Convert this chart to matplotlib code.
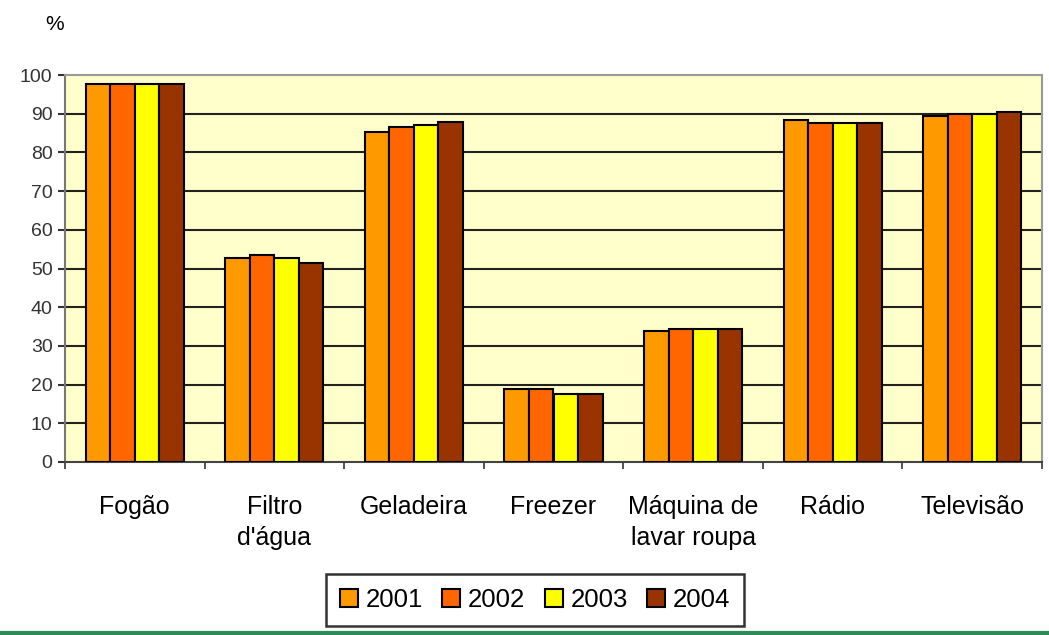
import matplotlib
matplotlib.use('Agg')
import matplotlib.pyplot as plt
import numpy as np

plt.rcParams['font.family'] = ['Liberation Sans', 'DejaVu Sans']

categories = ['Fogão', "Filtro\nd'água", 'Geladeira', 'Freezer',
              'Máquina de\nlavar roupa', 'Rádio', 'Televisão']
years = ['2001', '2002', '2003', '2004']
v2001 = [97.6, 52.8, 85.3, 18.8, 33.9, 88.4, 89.4]
v2002 = [97.6, 53.5, 86.6, 18.8, 34.3, 87.7, 89.8]
v2003 = [97.6, 52.8, 87.1, 17.5, 34.3, 87.7, 89.8]
v2004 = [97.6, 51.3, 87.9, 17.5, 34.3, 87.7, 90.5]
series = [v2001, v2002, v2003, v2004]
colors = ['#FF9900', '#FF6600', '#FFFF00', '#993300']

fig = plt.figure(figsize=(10.49, 6.35), dpi=100)
ax = fig.add_axes([65/1049, 1-462/635, (1042-65)/1049, (462-75)/635])
ax.set_facecolor('#FFFFCC')

x = np.arange(len(categories))
w = 0.176
for i, (vals, c) in enumerate(zip(series, colors)):
    ax.bar(x + (i - 1.5)*w, vals, w, color=c, edgecolor='black',
           linewidth=1.5, label=years[i], zorder=3)

ax.set_xlim(-0.5, len(categories) - 0.5)
ax.set_ylim(0, 100)
ax.set_yticks(np.arange(0, 101, 10))
for yv in range(10, 100, 10):
    ax.axhline(yv, color='#222222', linewidth=1.5, zorder=1)

ax.set_xticks(x)
ax.set_xticklabels(categories, fontsize=18, linespacing=1.35)
ax.set_xticks(np.arange(-0.5, len(categories), 1), minor=True)
ax.tick_params(axis='x', which='major', length=0, pad=24)
ax.tick_params(axis='x', which='minor', length=5, width=1.2, color='#333333')
ax.tick_params(axis='y', length=5, width=1.5, color='#333333',
               labelsize=14, labelcolor='#333333', pad=4)

for s in ['top', 'right']:
    ax.spines[s].set_color('#999999')
    ax.spines[s].set_linewidth(1.5)
ax.spines['left'].set_color('#777777')
ax.spines['left'].set_linewidth(1.5)
ax.spines['bottom'].set_color('#444444')
ax.spines['bottom'].set_linewidth(1.5)

fig.text(55/1049, 1-25/635, '%', fontsize=15, ha='center', va='center')

leg = fig.legend(loc='center', bbox_to_anchor=(535/1049, 1-600/635), ncol=4,
                 fontsize=18.5, frameon=True, fancybox=False, edgecolor='black',
                 handlelength=0.7, handleheight=0.7, handletextpad=0.3,
                 columnspacing=0.75, borderpad=0.55, borderaxespad=0)
leg.get_frame().set_linewidth(1.8)

fig.add_artist(plt.Line2D([0, 1], [1-633/635, 1-633/635], color='#2E8B57',
                          linewidth=3, transform=fig.transFigure))

fig.savefig('out.png', dpi=100)
